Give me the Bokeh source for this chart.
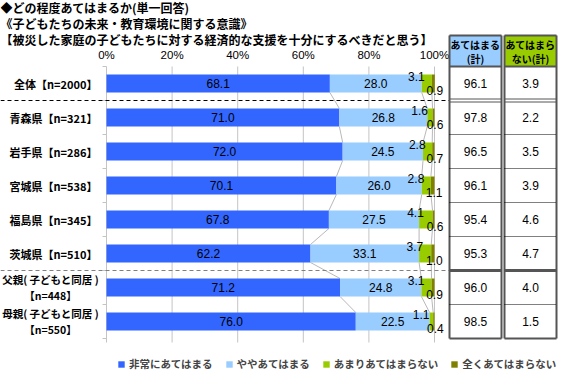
import numpy as np
from bokeh.plotting import figure
from bokeh.models import Range1d, Legend, LegendItem
from bokeh.core.properties import value
from bokeh.embed import file_html
from bokeh.resources import INLINE

# ---------------- data ----------------
title_lines = [
    "◆どの程度あてはまるか(単一回答)",
    "《子どもたちの未来・教育環境に関する意識》",
    "【被災した家庭の子どもたちに対する経済的な支援を十分にするべきだと思う】",
]
categories = [
    "全体【n=2000】",
    "青森県【n=321】",
    "岩手県【n=286】",
    "宮城県【n=538】",
    "福島県【n=345】",
    "茨城県【n=510】",
    "父親( 子どもと同居 )\n【n=448】",
    "母親( 子どもと同居 )\n【n=550】",
]
series_names = ["非常にあてはまる", "ややあてはまる", "あまりあてはまらない", "全くあてはまらない"]
very_true = [68.1, 71.0, 72.0, 70.1, 67.8, 62.2, 71.2, 76.0]
somewhat_true = [28.0, 26.8, 24.5, 26.0, 27.5, 33.1, 24.8, 22.5]
not_very_true = [3.1, 1.6, 2.8, 2.8, 4.1, 3.7, 3.1, 1.1]
not_true_at_all = [0.9, 0.6, 0.7, 1.1, 0.6, 1.0, 0.9, 0.4]
agree_total = [96.1, 97.8, 96.5, 96.1, 95.4, 95.3, 96.0, 98.5]
disagree_total = [3.9, 2.2, 3.5, 3.9, 4.6, 4.7, 4.0, 1.5]
table_header_line1 = ["あてはまる", "あてはまら"]
table_header_line2 = ["(計)", "ない(計)"]
x_ticks = [0, 20, 40, 60, 80, 100]

# ---------------- layout ----------------
W, H = 558, 371
X0, SX = 106.0, 3.28     # canvas px of 0%, px per %
Y0, SY = 83.0, 34.0      # canvas px of first row, px per row

def gx(cx):
    return (cx - X0) / SX

def gy(cy):
    return (cy - Y0) / SY

def dx(px):
    return px / SX

def dy(px):
    return px / SY

colors = ["#3366FF", "#99CCFF", "#99CC00", "#808000"]
JP_NAME = "Noto Sans CJK JP"
JP = value(JP_NAME)
NUM = value("Liberation Sans")

p = figure(width=W, height=H, x_range=Range1d(gx(0), gx(W)), y_range=Range1d(gy(H), gy(0)),
           output_backend="svg", toolbar_location=None, min_border=0,
           x_axis_location=None, y_axis_location=None, outline_line_color=None)
p.xgrid.visible = False
p.ygrid.visible = False
p.background_fill_color = "white"
p.border_fill_color = "white"

n = len(categories)
ys = np.arange(n)
vals = np.array([very_true, somewhat_true, not_very_true, not_true_at_all])
cum = np.cumsum(vals, axis=0)
lefts = cum - vals
BAR_H = 18 / SY

# grid lines and axis
bottom_ext = 7.5 + dy(4)
p.segment(x0=x_ticks, y0=[-0.5] * len(x_ticks), x1=x_ticks, y1=[bottom_ext] * len(x_ticks),
          line_color="#C4C4C4", line_width=1)
bounds = np.arange(n + 1) - 0.5
p.segment(x0=[-dx(4)] * len(bounds), y0=bounds, x1=[0] * len(bounds), y1=bounds,
          line_color="#C4C4C4", line_width=1)
p.text(x=x_ticks, y=[gy(54)] * len(x_ticks), text=[f"{t}%" for t in x_ticks],
       text_font=NUM, text_font_size="11.5px", text_align="center", text_baseline="middle",
       text_color="black")

# series lines
for k in range(3):
    p.segment(x0=cum[k][:-1], y0=ys[:-1] + BAR_H / 2, x1=cum[k][1:], y1=ys[1:] - BAR_H / 2,
              line_color="#A6A6A6", line_width=0.8)

# bars
renderers = []
for k in range(4):
    r = p.hbar(y=ys, left=lefts[k], right=cum[k], height=BAR_H,
               fill_color=colors[k], line_color=None)
    renderers.append(r)

# bar value labels
lbl = dict(text_font=NUM, text_font_size="12px", text_baseline="middle", text_color="black")
p.text(x=vals[0] / 2, y=ys, text=[f"{v:.1f}" for v in very_true], text_align="center", **lbl)
p.text(x=lefts[1] + vals[1] / 2, y=ys, text=[f"{v:.1f}" for v in somewhat_true], text_align="center", **lbl)
p.text(x=lefts[2] + vals[2] / 2 - dx(2), y=ys - dy(7), text=[f"{v:.1f}" for v in not_very_true],
       text_align="right", **lbl)
p.text(x=lefts[3] + vals[3] / 2 + dx(1.5), y=ys + dy(7), text=[f"{v:.1f}" for v in not_true_at_all],
       text_align="center", **lbl)

# row labels
lab = dict(text_font=JP, text_font_style="bold", text_baseline="middle", text_color="black")
single_y, single_t, multi_y, multi_t = [], [], [], []
for i, c in enumerate(categories):
    parts = c.split("\n")
    if len(parts) == 1:
        single_y.append(i)
        single_t.append(c)
    else:
        multi_y += [i - dy(8), i + dy(8)]
        multi_t += parts
p.text(x=[gx(97)] * len(single_y), y=single_y, text=single_t, text_align="right",
       text_font_size="11px", **lab)
p.text(x=[gx(50)] * len(multi_y), y=multi_y, text=multi_t, text_align="center",
       text_font_size="10.5px", **lab)

# separators
TABLE_L = 449
p.segment(x0=[gx(0)], y0=[0.5], x1=[gx(TABLE_L)], y1=[0.5], line_color="black", line_width=1,
          line_dash="4 3")
p.segment(x0=[gx(0)], y0=[5.5], x1=[gx(TABLE_L)], y1=[5.5], line_color="#808080", line_width=1.2,
          line_dash="4 3")

# titles
p.text(x=[gx(0)] * 3, y=[gy(7), gy(23), gy(39)], text=title_lines, text_font=JP,
       text_font_size="12px", text_font_style="bold", text_align="left", text_baseline="middle",
       text_color="black")

# summary table
cols = [(449, 501), (504, 556)]
HEAD_TOP = gy(35)
header_colors = ["#99CCFF", "#99CC00"]
cl = [gx(a) for a, b in cols]
cr = [gx(b) for a, b in cols]
cc = [(l + r) / 2 for l, r in zip(cl, cr)]
p.quad(left=cl, right=cr, top=[HEAD_TOP] * 2, bottom=[-0.5] * 2, fill_color=header_colors,
       line_color=None)
border = "#555555"
for l, r in zip(cl, cr):
    p.segment(x0=[l, r], y0=[HEAD_TOP, HEAD_TOP], x1=[l, r], y1=[7.5, 7.5], line_color=border,
              line_width=2)
    p.segment(x0=[l, l, l], y0=[HEAD_TOP, -0.5, 7.5], x1=[r, r, r], y1=[HEAD_TOP, -0.5, 7.5],
              line_color=border, line_width=2)
    p.segment(x0=[l, l], y0=[0.5 - dy(1.5), 0.5 + dy(1.5)], x1=[r, r],
              y1=[0.5 - dy(1.5), 0.5 + dy(1.5)], line_color=border, line_width=1)
    p.segment(x0=[l], y0=[5.5], x1=[r], y1=[5.5], line_color=border, line_width=3)
    dots = [1.5, 2.5, 3.5, 4.5, 6.5]
    p.segment(x0=[l] * len(dots), y0=dots, x1=[r] * len(dots), y1=dots, line_color="black",
              line_width=1, line_dash="1 1")

hd = dict(text_font=JP, text_font_size="10px", text_font_style="bold", text_align="center",
          text_baseline="middle", text_color="black")
p.text(x=cc, y=[gy(44)] * 2, text=table_header_line1, **hd)
p.text(x=cc, y=[gy(58)] * 2, text=table_header_line2, **hd)
tv = dict(text_font=NUM, text_font_size="12px", text_align="center", text_baseline="middle",
          text_color="black")
p.text(x=[cc[0]] * n, y=ys, text=[f"{v:.1f}" for v in agree_total], **tv)
p.text(x=[cc[1]] * n, y=ys, text=[f"{v:.1f}" for v in disagree_total], **tv)

# legend
legend = Legend(items=[LegendItem(label=nm, renderers=[r]) for nm, r in zip(series_names, renderers)],
                orientation="horizontal", location=(117, 0), glyph_width=8, glyph_height=8,
                label_standoff=4, spacing=12, padding=0, margin=0, border_line_color=None,
                background_fill_alpha=0, label_text_font=JP_NAME, label_text_font_size="10.5px",
                label_text_font_style="bold", label_height=12)
p.add_layout(legend)

open("out.html", "w").write(file_html(p, INLINE))
